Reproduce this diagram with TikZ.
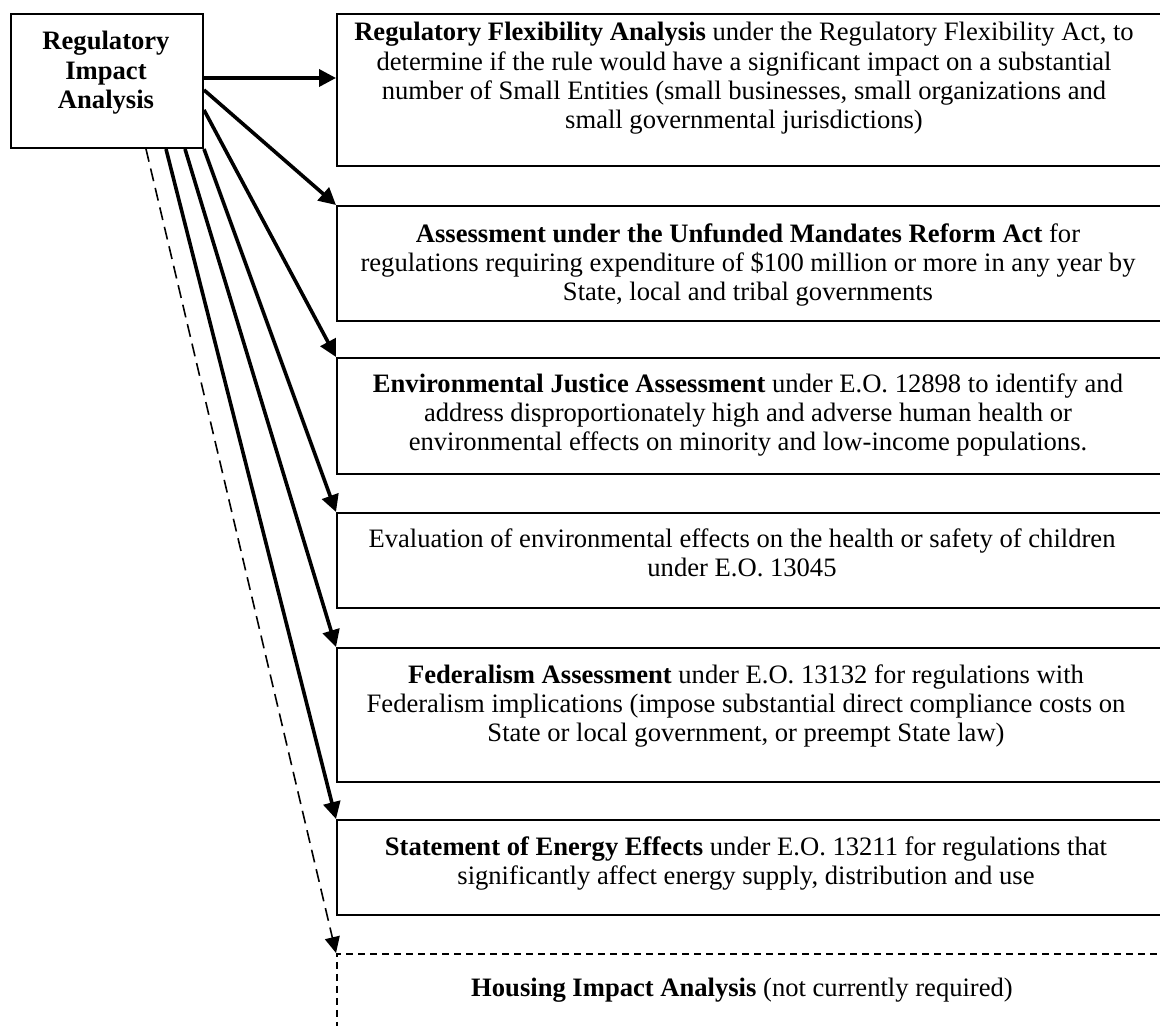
\documentclass[tikz,border=0pt]{standalone}
\usepackage{fontspec}
\setmainfont{Liberation Serif}
\usetikzlibrary{arrows.meta,calc}
\begin{document}
\begin{tikzpicture}[x=0.5pt,y=-0.5pt,
  box/.style={draw, line width=1pt, rectangle, anchor=north west, minimum width=415pt, inner sep=0pt},
  dbox/.style={draw, line width=0.8pt, dash pattern=on 3.5pt off 2.5pt, rectangle, anchor=north west, minimum width=415pt, minimum height=60pt, inner sep=0pt},
  txt/.style={anchor=north, align=center, inner sep=0pt, font=\fontsize{13.3}{14.6}\selectfont},
  arr/.style={line width=1.8pt, -{Triangle[length=8.5pt,width=8.5pt]}},
  darr/.style={line width=0.8pt, dash pattern=on 6.5pt off 3.5pt, -{Triangle[length=8pt,width=7.5pt]}}]
\path[use as bounding box] (0,0) rectangle (1160,1026);
\clip (0,0) rectangle (1160,1026);

% source box
\node[draw, line width=1pt, rectangle, anchor=north west, minimum width=96pt, minimum height=67pt, inner sep=0pt] (ria) at (10,13) {};
\node[txt, font=\fontsize{13.3}{14.6}\selectfont\bfseries] (riat) at (106,31) {Regulatory\\Impact\\Analysis};

% target boxes
\node[box, minimum height=76pt] (b1) at (336,13) {};
\node[box, minimum height=57.5pt] (b2) at (336,205) {};
\node[box, minimum height=58pt] (b3) at (336,357) {};
\node[box, minimum height=47.5pt] (b4) at (336,512) {};
\node[box, minimum height=67pt] (b5) at (336,647) {};
\node[box, minimum height=47.5pt] (b6) at (336,819) {};
\node[dbox] (b7) at (336,953) {};

% texts
\node[txt] (t1) at (744,22) {\textbf{Regulatory Flexibility Analysis} under the Regulatory Flexibility Act, to\\determine if the rule would have a significant impact on a substantial\\number of Small Entities (small businesses, small organizations and\\small governmental jurisdictions)};
\node[txt] (t2) at (748,223) {\textbf{Assessment under the Unfunded Mandates Reform Act} for\\regulations requiring expenditure of \$100 million or more in any year by\\State, local and tribal governments};
\node[txt] (t3) at (748,373) {\textbf{Environmental Justice Assessment} under E.O. 12898 to identify and\\address disproportionately high and adverse human health or\\environmental effects on minority and low-income populations.};
\node[txt] (t4) at (742,528) {Evaluation of environmental effects on the health or safety of children\\under E.O. 13045};
\node[txt] (t5) at (746,664) {\textbf{Federalism Assessment} under E.O. 13132 for regulations with\\Federalism implications (impose substantial direct compliance costs on\\State or local government, or preempt State law)};
\node[txt] (t6) at (746,836) {\textbf{Statement of Energy Effects} under E.O. 13211 for regulations that\\significantly affect energy supply, distribution and use};
\node[txt] (t7) at (742,978) {\textbf{Housing Impact Analysis} (not currently required)};

% connectors
\draw[arr] ([yshift=-32.5pt]ria.north east) -- ([yshift=-32.5pt]b1.north west);
\draw[arr] ([yshift=-38.5pt]ria.north east) -- (b2.north west);
\draw[arr] ([yshift=-48.5pt]ria.north east) -- (b3.north west);
\draw[arr] (ria.south east) -- (b4.north west);
\draw[arr] ([xshift=-9.5pt]ria.south east) -- (b5.north west);
\draw[arr] ([xshift=-19pt]ria.south east) -- (b6.north west);
\draw[darr] ([xshift=-29pt]ria.south east) -- (b7.north west);
\end{tikzpicture}
\end{document}
